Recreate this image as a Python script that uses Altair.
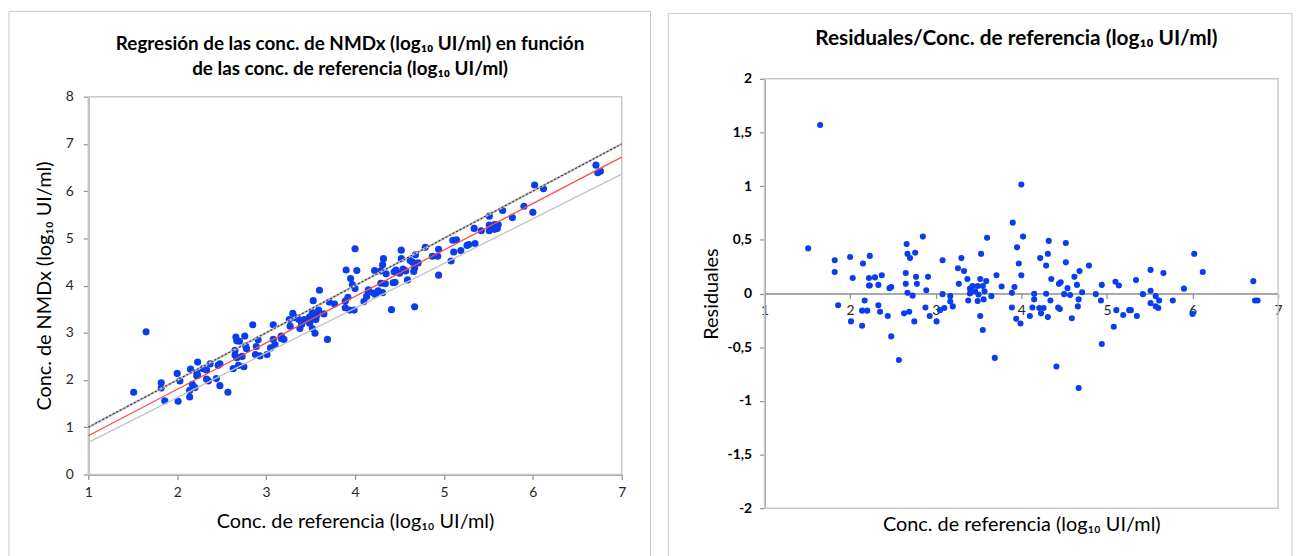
import altair as alt
import pandas as pd

# ---- data ----
ref_conc = [1.51, 1.65, 1.82, 1.82, 1.86, 2.00, 2.03, 2.01, 2.14, 2.15, 2.23, 2.17, 2.14, 2.20, 2.22, 2.29,
            2.22, 2.23, 2.33, 2.37, 2.33, 2.35, 2.44, 2.46, 2.48, 2.48, 2.57, 2.66, 2.67, 2.70, 2.76, 2.65,
            2.65, 2.67, 2.73, 2.77, 2.78, 2.63, 2.69, 2.75, 2.85, 2.91, 2.89, 2.88, 2.93, 3.01, 3.05, 3.10,
            3.08, 3.08, 3.17, 3.17, 3.20, 3.30, 3.26, 3.33, 3.37, 3.27, 3.40, 3.40, 3.38, 3.43, 3.46, 3.49,
            3.50, 3.49, 3.52, 3.53, 3.52, 3.55, 3.55, 3.57, 3.59, 3.56, 3.60, 3.65, 3.71, 3.69, 3.77, 3.90,
            3.95, 3.97, 4.00, 3.92, 3.89, 3.89, 3.94, 3.99, 4.00, 4.02,
            4.15, 4.15, 4.13, 4.10, 4.21, 4.23, 4.26, 4.22, 4.31, 4.32, 4.29, 4.29, 4.34, 4.31, 4.35, 4.44,
            4.46, 4.43, 4.45, 4.41, 4.52, 4.52, 4.54, 4.50, 4.57, 4.59, 4.62, 4.65, 4.68, 4.71, 4.67, 4.66,
            4.67, 4.79, 4.87, 4.93, 4.94, 4.94, 5.08, 5.10, 5.14, 5.11, 5.19, 5.26, 5.28, 5.34, 5.35, 5.42,
            5.51, 5.51, 5.51, 5.57, 5.57, 5.60, 5.61, 5.66, 5.77, 5.90, 6.02, 6.00, 6.12, 6.71, 6.73, 6.76]

nmdx_conc = [1.74, 3.02, 1.94, 1.83, 1.56, 2.14, 1.98, 1.55, 1.64, 2.23, 2.38, 1.91, 1.78, 1.84, 2.16, 2.24,
             2.09, 2.10, 2.21, 2.34, 2.02, 1.98, 2.03, 2.31, 2.34, 1.88, 1.74, 2.91, 2.83, 2.82, 2.93, 2.63,
             2.53, 2.47, 2.50, 2.72, 2.66, 2.24, 2.31, 2.28, 3.17, 2.85, 2.71, 2.54, 2.51, 2.54, 2.68, 2.75,
             3.17, 2.86, 2.93, 2.88, 2.86, 3.41, 3.28, 3.32, 3.28, 3.14, 3.22, 3.18, 3.09, 3.28, 3.26, 3.34,
             3.27, 3.20, 3.43, 3.68, 3.09, 2.99, 3.40, 3.37, 3.48, 3.28, 3.90, 3.40, 3.65, 2.86, 3.61, 4.33,
             4.15, 4.02, 3.94, 3.75, 3.67, 3.53, 3.48, 3.48, 4.78, 4.32,
             3.91, 3.86, 3.77, 3.66, 3.84, 3.81, 3.89, 4.32, 4.44, 4.57, 4.31, 4.05, 4.04, 3.85, 4.25, 4.29,
             4.33, 4.06, 4.07, 3.49, 4.75, 4.57, 4.35, 4.26, 4.31, 4.12, 4.53, 4.49, 4.65, 4.48, 4.37, 4.30,
             3.55, 4.81, 4.62, 4.62, 4.77, 4.22, 4.52, 4.96, 4.97, 4.71, 4.74, 4.85, 4.87, 5.21, 4.89, 5.16,
             5.47, 5.28, 5.16, 5.29, 5.19, 5.21, 5.29, 5.59, 5.44, 5.68, 6.13, 5.55, 6.05, 6.55, 6.39, 6.42]

residual = [0.42, 1.57, 0.31, 0.20, -0.11, 0.34, 0.145, -0.26, -0.30, 0.28, 0.35, -0.065, -0.16, -0.16, 0.145, 0.15,
            0.075, 0.075, 0.08, 0.17, -0.11, -0.17, -0.21, 0.05, 0.06, -0.40, -0.62, 0.46, 0.37, 0.33, 0.38, 0.19,
            0.09, 0.006, -0.02, 0.155, 0.09, -0.185, -0.17, -0.26, 0.53, 0.155, 0.03, -0.13, -0.21, -0.26, -0.155, -0.135,
            0.31, -0.006, -0.025, -0.075, -0.12, 0.33, 0.235, 0.21, 0.135, 0.09, 0.045, 0.0, -0.065, 0.07, 0.02, 0.07,
            -0.01, -0.07, 0.135, 0.37, -0.21, -0.34, 0.07, 0.02, 0.115, -0.055, 0.52, -0.025, 0.17, -0.60, 0.065, 0.66,
            0.43, 0.28, 0.17, 0.06, 0.006, -0.13, -0.235, -0.28, 1.015, 0.53,
            -0.003, -0.055, -0.13, -0.21, -0.135, -0.185, -0.135, 0.33, 0.37, 0.49, 0.26, -0.003, -0.065, -0.22, 0.135, 0.09,
            0.105, -0.13, -0.145, -0.68, 0.47, 0.29, 0.05, -0.006, -0.015, -0.23, 0.155, 0.08, 0.21, 0.012, -0.055, -0.12,
            -0.88, 0.26, -0.006, -0.065, 0.08, -0.47, -0.31, 0.11, 0.075, -0.155, -0.20, -0.155, -0.155, 0.125, -0.21, -0.006,
            0.22, 0.025, -0.09, -0.025, -0.12, -0.135, -0.065, 0.19, -0.065, 0.045, 0.37, -0.19, 0.20, 0.115, -0.065, -0.065]

line_x = [1, 7]
identity_y = [1, 7]
regression_y = [0.82, 6.72]
lower_limit_y = [0.68, 6.36]

x_ticks = [1, 2, 3, 4, 5, 6, 7]
left_y_ticks = [0, 1, 2, 3, 4, 5, 6, 7, 8]
right_y_ticks = [-2, -1.5, -1, -0.5, 0, 0.5, 1, 1.5, 2]

title_left = ["Regresión de las conc. de NMDx (log₁₀ UI/ml) en función",
              "de las conc. de referencia (log₁₀ UI/ml)"]
title_right = "Residuales/Conc. de referencia (log₁₀ UI/ml)"
x_title = "Conc. de referencia (log₁₀ UI/ml)"
y_title_left = "Conc. de NMDx (log₁₀ UI/ml)"
y_title_right = "Residuales"

# ---- styling ----
FONT = "Lato"
BLUE = "#0a3ded"
AXIS_GRAY = "#8c8c8c"
FRAME_GRAY = "#c8c8c8"
TEXT = "#262626"

pts = pd.DataFrame({"ref": ref_conc, "nmdx": nmdx_conc, "res": residual})
one = pd.DataFrame({"k": [0]})

# ================= LEFT =================
WL, HL = 538, 399
xs_l = alt.Scale(domain=[1, 7], nice=False, zero=False)
ys_l = alt.Scale(domain=[0, 8], range=[HL, 18], nice=False, zero=False)
ax_xl = alt.Axis(values=x_ticks, title=x_title, labelFlush=False, labelPadding=6, titlePadding=13,
                 titleFontSize=20, labelFontSize=14)
ax_yl = alt.Axis(values=left_y_ticks, title=y_title_left, labelPadding=10, titlePadding=11,
                 titleFontSize=20, labelFontSize=14)

left_frame_outer = alt.Chart(one).mark_rect(fillOpacity=0, stroke=FRAME_GRAY, strokeWidth=1).encode(
    x=alt.value(-80), x2=alt.value(567), y=alt.value(-68), y2=alt.value(500))

left_plot_frame = alt.Chart(one).mark_rect(fillOpacity=0, stroke=FRAME_GRAY, strokeWidth=1.5).encode(
    x=alt.X(datum=1, scale=xs_l, axis=ax_xl), x2=alt.X2(datum=7),
    y=alt.Y(datum=0, scale=ys_l, axis=ax_yl), y2=alt.Y2(datum=8))

left_pts = alt.Chart(pts).mark_circle(size=52, color=BLUE, opacity=1).encode(
    x=alt.X("ref:Q", scale=xs_l, axis=ax_xl),
    y=alt.Y("nmdx:Q", scale=ys_l, axis=ax_yl),
)


def seg(yvals, color, width, dash=None):
    df = pd.DataFrame({"ref": line_x, "nmdx": yvals})
    kw = dict(color=color, strokeWidth=width)
    if dash:
        kw["strokeDash"] = dash
    return alt.Chart(df).mark_line(**kw).encode(
        x=alt.X("ref:Q", scale=xs_l, axis=ax_xl),
        y=alt.Y("nmdx:Q", scale=ys_l, axis=ax_yl))


left_lines = [
    seg(identity_y, "#bdbdbd", 2.2),
    seg(identity_y, "#333333", 1.1, [2, 2]),
    seg(regression_y, "#ff4a4a", 1.3),
    seg(lower_limit_y, "#c4c4c4", 1.4),
]

lt1 = alt.Chart(one).mark_text(text=title_left[0], font=FONT, fontSize=19, fontWeight="bold",
                               color="#000000", align="center", baseline="middle").encode(
    x=alt.value(264), y=alt.value(-35))
lt2 = alt.Chart(one).mark_text(text=title_left[1], font=FONT, fontSize=19, fontWeight="bold",
                               color="#000000", align="center", baseline="middle").encode(
    x=alt.value(264), y=alt.value(-10))

left = alt.layer(left_plot_frame, left_pts, *left_lines, left_frame_outer, lt1, lt2).properties(
    width=WL, height=HL)

# ================= RIGHT =================
WR, HR = 518, 433
xs_r = alt.Scale(domain=[1, 7], nice=False, zero=False)
ys_r = alt.Scale(domain=[-2, 2], nice=False, zero=False)
ax_xr = alt.Axis(values=x_ticks, title=x_title, labelFlush=False, offset=-216.5, labelPadding=5,
                 titleY=233, titleBaseline="middle", titleFontSize=20, labelFontSize=14)
ax_yr = alt.Axis(values=right_y_ticks, title=y_title_right, labelPadding=8, titlePadding=6,
                 labelFontWeight="bold", labelColor="#000000", labelFontSize=14, titleFontSize=20,
                 labelExpr="(datum.value < 0 ? '-' : '') + replace(format(abs(datum.value), '.1~f'), '.', ',')")

right_frame_outer = alt.Chart(one).mark_rect(fillOpacity=0, stroke=FRAME_GRAY, strokeWidth=1).encode(
    x=alt.value(-97), x2=alt.value(532), y=alt.value(-66), y2=alt.value(500))

right_plot_frame = alt.Chart(one).mark_rect(fillOpacity=0, stroke=FRAME_GRAY, strokeWidth=1.5).encode(
    x=alt.X(datum=1, scale=xs_r, axis=ax_xr), x2=alt.X2(datum=7),
    y=alt.Y(datum=-2, scale=ys_r, axis=ax_yr), y2=alt.Y2(datum=2))

right_pts = alt.Chart(pts).mark_circle(size=38, color=BLUE, opacity=1).encode(
    x=alt.X("ref:Q", scale=xs_r, axis=ax_xr),
    y=alt.Y("res:Q", scale=ys_r, axis=ax_yr),
)

rt = alt.Chart(one).mark_text(text=title_right, font=FONT, fontSize=21, fontWeight="bold",
                              color="#000000", align="center", baseline="middle").encode(
    x=alt.value(254), y=alt.value(-40))

right = alt.layer(right_plot_frame, right_pts, right_frame_outer, rt).properties(width=WR, height=HR)

chart = alt.hconcat(left, right, spacing=16).properties(padding=0).configure_view(
    stroke=None
).configure_axis(
    grid=False, domainColor=AXIS_GRAY, domainWidth=1.5, tickColor=AXIS_GRAY, tickWidth=1.2, tickSize=5,
    labelFont=FONT, titleFont=FONT, labelColor=TEXT, titleColor="#000000", titleFontWeight="normal",
    labelOverlap=False
)

chart.save("out.html", embed_options={"renderer": "svg", "actions": False})
